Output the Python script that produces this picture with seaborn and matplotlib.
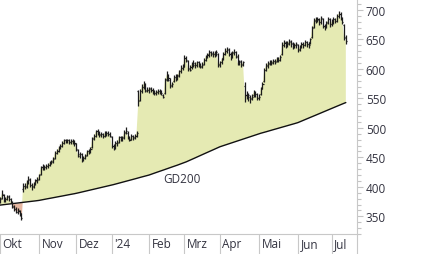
import numpy as np
import pandas as pd
import matplotlib
matplotlib.use("Agg")
import matplotlib.pyplot as plt
import seaborn as sns
from matplotlib.ticker import MultipleLocator
from matplotlib.transforms import ScaledTranslation
from matplotlib.lines import Line2D

# ---- data (trading-day index, Oct 2023 .. Jul 2024) ----
month_labels = ["Okt", "Nov", "Dez", "'24", "Feb", "Mrz", "Apr", "Mai", "Jun", "Jul"]
month_start = [0, 22, 43, 63, 84, 104, 124, 146, 168, 187]

opens = [377,381,386,378,379,383,379,374,367,362,358,359,354,397,402,400,409,412,403,401,405,410,
         414,422,434,432,434,435,437,441,444,449,458,461,467,470,474,479,477,479,476,478,477,
         472,462,455,456,447,449,454,460,461,468,483,487,494,492,489,490,487,491,491,490,
         484,469,467,474,476,484,481,484,493,492,484,481,486,484,487,562,548,562,570,574,565,
         564,566,565,562,559,561,563,562,556,560,583,589,582,571,580,587,584,589,597,601,
         606,618,613,601,603,609,607,607,611,607,604,609,615,621,625,628,626,626,627,626,
         608,612,618,626,631,632,625,621,628,628,621,611,613,608,571,556,555,553,550,555,559,557,
         551,558,568,580,598,605,609,612,611,614,614,618,616,626,641,644,641,644,646,643,638,641,
         640,634,639,643,641,645,643,645,655,671,683,685,683,679,684,673,672,679,684,
         677,679,684,682,690,693,686,674,654]
highs = [382,394,388,383,387,386,381,376,369,365,364,361,356,406,407,411,418,415,406,408,414,416,
         422,435,438,437,438,440,444,446,450,460,464,469,473,477,482,482,481,481,482,481,479,
         474,464,459,458,452,456,462,465,467,485,490,497,498,495,493,492,494,494,495,493,
         486,472,477,479,487,487,486,497,501,494,487,490,488,490,495,564,566,574,579,577,569,
         570,569,567,565,564,566,566,565,558,584,597,592,585,578,590,591,592,599,606,608,
         623,622,616,606,612,616,611,614,613,610,611,619,624,627,632,631,630,630,632,627,
         614,619,628,636,638,635,628,630,634,630,625,616,615,614,578,562,560,555,558,564,563,560,
         558,569,578,602,610,614,616,615,617,617,621,620,624,645,649,647,648,650,649,645,644,646,
         642,641,646,645,649,648,645,653,673,686,689,689,686,690,686,677,681,688,686,
         684,688,687,693,698,696,688,676,657]
lows = [372,379,374,375,377,376,372,364,359,355,354,351,344,392,397,398,405,400,395,398,403,407,
        412,420,428,429,431,432,435,438,441,447,455,459,464,467,472,474,475,472,473,472,469,
        461,450,449,443,444,447,452,456,458,466,480,485,488,484,485,483,485,487,486,484,
        466,462,465,470,474,477,478,482,489,481,477,479,480,481,485,538,546,560,566,561,561,
        560,561,558,556,556,558,557,555,550,558,580,580,568,569,578,580,582,587,594,598,
        604,611,597,596,600,604,601,604,603,601,602,607,613,618,621,622,620,621,622,603,
        604,609,615,623,627,622,616,619,624,619,607,607,604,605,544,549,546,542,547,552,553,548,
        547,556,566,578,596,602,606,606,608,608,612,612,614,624,637,636,638,641,638,634,635,636,
        629,631,636,636,639,638,636,643,653,669,678,679,674,677,669,666,670,676,672,
        673,676,678,680,686,683,676,649,643]
closes = [380,388,377,380,384,379,375,366,362,358,360,355,347,401,401,408,414,403,400,405,411,412,
          420,433,432,434,435,437,441,443,448,458,461,466,470,474,479,477,479,476,478,477,474,
          465,453,455,446,449,453,460,461,464,482,486,494,492,488,490,486,491,491,490,487,
          470,466,474,475,485,480,483,492,494,485,480,486,483,486,492,545,562,570,575,563,564,
          567,565,562,559,561,563,561,560,553,581,590,584,572,575,586,584,588,596,601,603,
          619,615,600,599,608,610,606,612,608,605,606,615,621,624,628,627,625,627,628,607,
          611,617,625,631,634,626,620,627,629,622,610,612,607,611,555,554,556,549,553,560,558,551,
          553,566,575,598,606,610,611,610,614,612,618,616,621,641,645,640,643,647,644,638,641,642,
          633,638,643,640,645,643,641,650,670,682,685,684,679,686,673,671,678,684,676,
          680,684,681,690,694,686,679,653,648]
gd200 = [369.0,369.4,369.7,370.1,370.4,370.8,371.2,371.5,371.9,372.2,372.6,373.0,373.3,373.7,374.0,374.4,374.8,375.1,375.5,375.8,376.2,376.6,
         377.0,377.6,378.1,378.7,379.3,379.9,380.4,381.0,381.6,382.1,382.7,383.3,383.8,384.4,385.0,385.6,386.1,386.7,387.3,387.8,388.4,
         389.0,389.7,390.4,391.1,391.8,392.5,393.2,393.9,394.6,395.3,396.0,396.7,397.4,398.1,398.8,399.5,400.2,400.9,401.6,402.3,
         403.0,403.8,404.6,405.4,406.2,407.1,407.9,408.7,409.5,410.3,411.1,411.9,412.7,413.5,414.3,415.2,416.0,416.8,417.6,418.4,419.2,
         420.0,421.1,422.1,423.2,424.2,425.3,426.3,427.4,428.4,429.5,430.5,431.6,432.6,433.7,434.7,435.8,436.8,437.9,438.9,440.0,
         441.0,442.4,443.7,445.1,446.4,447.8,449.1,450.5,451.8,453.2,454.5,455.9,457.2,458.6,459.9,461.3,462.6,464.0,465.3,466.7,
         468.0,469.0,470.0,471.0,472.0,473.0,474.0,475.0,476.0,477.0,478.0,479.0,480.0,481.0,482.0,483.0,484.0,485.0,486.0,487.0,488.0,489.0,
         490.0,490.9,491.7,492.6,493.4,494.3,495.2,496.0,496.9,497.7,498.6,499.5,500.3,501.2,502.0,502.9,503.8,504.6,505.5,506.3,507.2,508.1,
         509.0,510.3,511.5,512.8,514.0,515.3,516.6,517.8,519.1,520.3,521.6,522.9,524.1,525.4,526.6,527.9,529.2,530.4,531.7,
         533.0,534.3,535.5,536.8,538.0,539.3,540.5,541.8,543.0]

n = len(closes)
assert len(opens) == n and len(highs) == n and len(lows) == n and len(gd200) == n, (len(opens), len(highs), len(lows), n, len(gd200))

df = pd.DataFrame({"t": np.arange(n), "open": opens, "high": highs,
                   "low": lows, "close": closes, "gd200": gd200})

# ---- style ----
sns.set_theme(style="white")
plt.rcParams["font.family"] = ["Open Sans", "DejaVu Sans"]

W, H = 426, 255
fig = plt.figure(figsize=(W / 100, H / 100), dpi=100)
ax = fig.add_axes([0, 20 / H, 357 / W, 235 / H])

t = df["t"].to_numpy()
c = df["close"].to_numpy(dtype=float)
g = df["gd200"].to_numpy(dtype=float)

ax.fill_between(t, c, g, where=c >= g, interpolate=True, color="#e5eab3", lw=0, zorder=1)
ax.fill_between(t, c, g, where=c < g, interpolate=True, color="#e6b7a1", lw=0, zorder=1)

sns.lineplot(x=t, y=g, color="#111111", linewidth=1.0, ax=ax, zorder=2)

bar_col = "#1c1c1c"
ax.vlines(t, df["low"], df["high"], color=bar_col, lw=0.9, zorder=3)
ax.hlines(df["open"], t - 0.6, t, color=bar_col, lw=0.9, zorder=3)
ax.hlines(df["close"], t, t + 0.6, color=bar_col, lw=0.9, zorder=3)

ax.text(92, 415, "GD200", fontsize=8.5, color="#333340", ha="left", va="center")

# axes limits
ax.set_xlim(0.32, 201.3)
ax.set_ylim(320, 718.7)

# y axis on the right
ax.yaxis.tick_right()
ax.set_yticks(np.arange(350, 701, 50))
ax.yaxis.set_minor_locator(MultipleLocator(10))
ax.tick_params(axis="y", which="major", length=4.3, width=0.8, color="#c4c4c4",
               labelsize=8.5, labelcolor="#333340", pad=2, right=True, left=False)
ax.tick_params(axis="y", which="minor", length=2.9, width=0.8, color="#c4c4c4",
               right=True, left=False)

# x axis: month labels
ax.set_xticks(month_start)
ax.set_xticklabels(month_labels, ha="left")
ax.tick_params(axis="x", length=0, labelsize=8.5, labelcolor="#333340", pad=2.5)
for lab in ax.get_xticklabels():
    lab.set_transform(lab.get_transform() + ScaledTranslation(2.5 / 100, 0, fig.dpi_scale_trans))
ax.vlines(month_start, -20 / 235, 0, transform=ax.get_xaxis_transform(),
          clip_on=False, color="#c8c8c8", lw=0.8)

for s in ["top", "left"]:
    ax.spines[s].set_visible(False)
for s in ["right", "bottom"]:
    ax.spines[s].set_color("#c8c8c8")
    ax.spines[s].set_linewidth(0.8)

fig.add_artist(Line2D([357 / W, 357 / W], [0, 20 / H], transform=fig.transFigure,
                      color="#c8c8c8", lw=0.8))
ax.grid(False)

fig.savefig("out.png", dpi=100, facecolor="white")
